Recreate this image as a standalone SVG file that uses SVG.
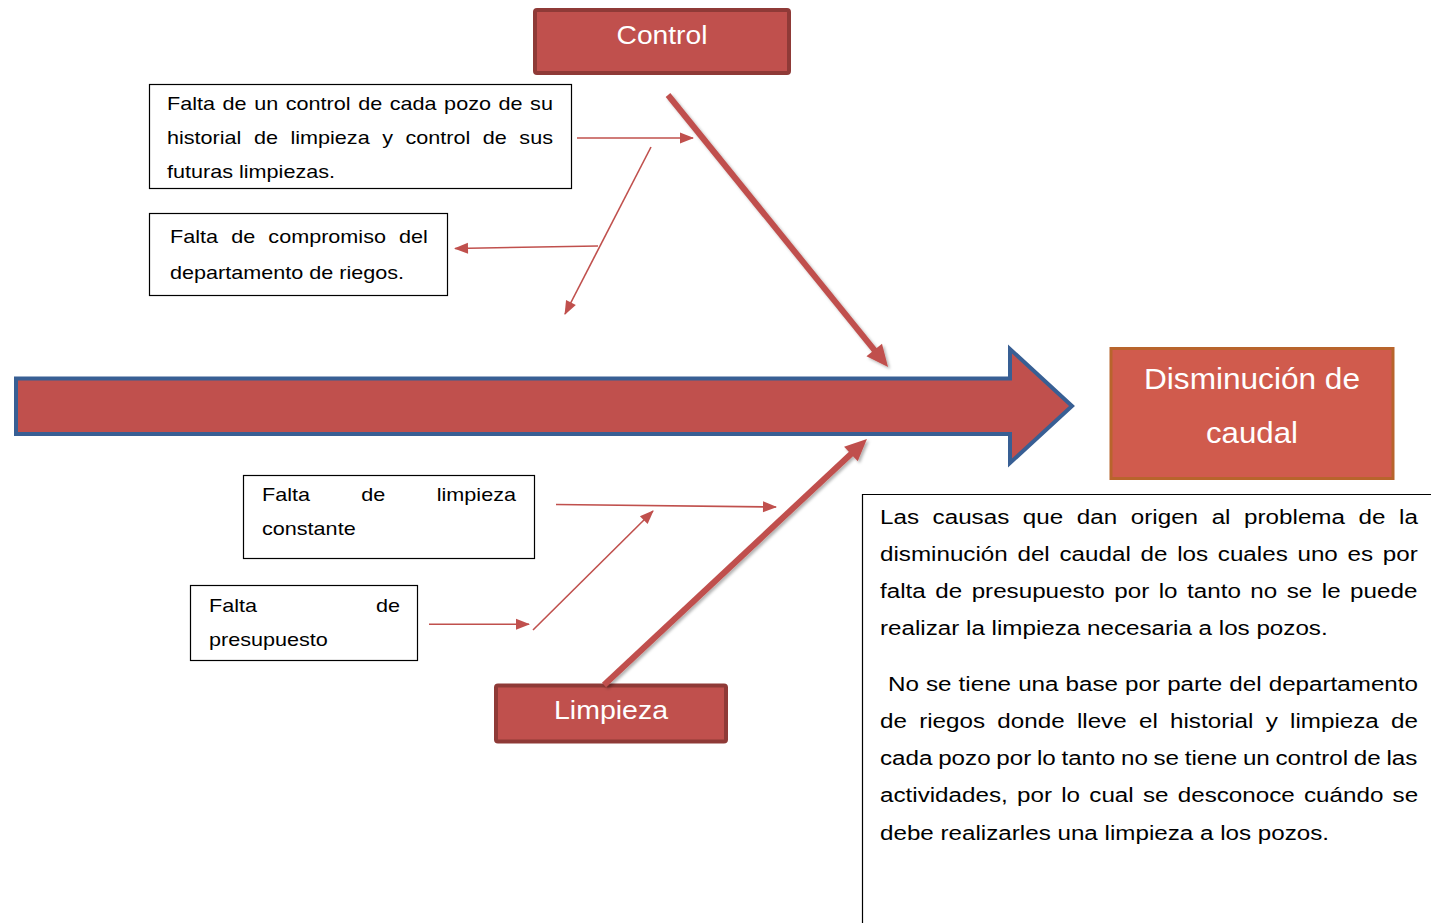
<svg xmlns="http://www.w3.org/2000/svg" width="1431" height="923" viewBox="0 0 1431 923">
  <style>
    .box { fill: #ffffff; stroke: #000000; stroke-width: 1.2; }
    .t { font-family: "Liberation Sans", Arial, sans-serif; fill: #000000; }
    .bx { font-size: 18px; }
    .para { font-size: 20px; }
    .lbl { font-family: "Liberation Sans", Arial, sans-serif; fill: #ffffff; text-anchor: middle; }
    .thin { fill: none; stroke: #C0504D; stroke-width: 1.6; marker-end: url(#headThin); }
    .thick { fill: none; stroke: #C0504D; stroke-width: 6; marker-end: url(#headThick); filter: url(#soft); }
    .cat { fill: #C0504D; stroke: #8F3A37; stroke-width: 4; }
  </style>
  <defs>
    <marker id="headThin" markerUnits="userSpaceOnUse" markerWidth="14" markerHeight="11" refX="13" refY="5.5" orient="auto" overflow="visible">
      <path d="M0,0 L14,5.5 L0,11 z" fill="#C0504D"/>
    </marker>
    <marker id="headThick" markerUnits="userSpaceOnUse" markerWidth="22" markerHeight="20" refX="10" refY="10" orient="auto" overflow="visible">
      <path d="M0,0 L22,10 L0,20 z" fill="#C0504D"/>
    </marker>
    <filter id="soft" x="-20%" y="-20%" width="140%" height="140%">
      <feDropShadow dx="2" dy="2" stdDeviation="1.5" flood-color="#000000" flood-opacity="0.3"/>
    </filter>
  </defs>

  <!-- spine -->
  <g id="spine">
    <polygon points="16,378.5 1010,378.5 1010,349 1072,406 1010,463 1010,434 16,434" fill="#C0504D" stroke="#385F94" stroke-width="4" stroke-linejoin="miter"/>
  </g>

  <!-- effect -->
  <g id="effect">
    <rect x="1111" y="348.5" width="282" height="130" fill="#D05B4D" stroke="#B8642C" stroke-width="3"/>
    <text class="lbl" x="1252" y="389" font-size="29" textLength="216" lengthAdjust="spacingAndGlyphs">Disminución de</text>
    <text class="lbl" x="1252" y="443" font-size="29" textLength="92" lengthAdjust="spacingAndGlyphs">caudal</text>
  </g>

  <!-- category: Control -->
  <g id="control">
    <rect class="cat" x="535" y="10" width="254" height="63" rx="2"/>
    <text class="lbl" x="662" y="44" font-size="26" textLength="91" lengthAdjust="spacingAndGlyphs">Control</text>
  </g>

  <!-- category: Limpieza -->
  <g id="limpieza">
    <rect class="cat" x="496" y="685.5" width="230" height="56" rx="2"/>
    <text class="lbl" x="611" y="719" font-size="25" textLength="114" lengthAdjust="spacingAndGlyphs">Limpieza</text>
  </g>

  <!-- cause: control history -->
  <g id="cause-historial">
    <rect class="box" x="149.5" y="84.5" width="422" height="104"/>
    <g transform="translate(167 0) scale(1.2 1)">
      <text class="t bx" x="0" y="110" word-spacing="1.31">Falta de un control de cada pozo de su</text>
      <text class="t bx" x="0" y="144" word-spacing="5.43">historial de limpieza y control de sus</text>
      <text class="t bx" x="0" y="178">futuras limpiezas.</text>
    </g>
  </g>

  <!-- cause: commitment -->
  <g id="cause-compromiso">
    <rect class="box" x="149.5" y="213.5" width="298" height="82"/>
    <g transform="translate(170 0) scale(1.2 1)">
      <text class="t bx" x="0" y="243" word-spacing="5.97">Falta de compromiso del</text>
      <text class="t bx" x="0" y="279">departamento de riegos.</text>
    </g>
  </g>

  <!-- cause: constant cleaning -->
  <g id="cause-limpieza">
    <rect class="box" x="243.5" y="475.5" width="291" height="83"/>
    <g transform="translate(262 0) scale(1.2 1)">
      <text class="t bx" x="0" y="501" word-spacing="37.8">Falta de limpieza</text>
      <text class="t bx" x="0" y="535">constante</text>
    </g>
  </g>

  <!-- cause: budget -->
  <g id="cause-presupuesto">
    <rect class="box" x="190.5" y="585.5" width="227" height="75"/>
    <g transform="translate(209 0) scale(1.2 1)">
      <text class="t bx" x="0" y="612" word-spacing="94.2">Falta de</text>
      <text class="t bx" x="0" y="646">presupuesto</text>
    </g>
  </g>

  <!-- explanation -->
  <g id="explicacion">
    <path d="M862.5,923 L862.5,494.5 L1431,494.5" fill="none" stroke="#000000" stroke-width="1.2"/>
    <g transform="translate(880 0) scale(1.21 1)">
      <text class="t para" x="0" y="524" word-spacing="5.7">Las causas que dan origen al problema de la</text>
      <text class="t para" x="0" y="561" word-spacing="2.5">disminución del caudal de los cuales uno es por</text>
      <text class="t para" x="0" y="598" word-spacing="2.3">falta de presupuesto por lo tanto no se le puede</text>
      <text class="t para" x="0" y="635">realizar la limpieza necesaria a los pozos.</text>
      <text class="t para" x="6.6" y="691" word-spacing="0.3">No se tiene una base por parte del departamento</text>
      <text class="t para" x="0" y="728" word-spacing="4.6">de riegos donde lleve el historial y limpieza de</text>
      <text class="t para" x="0" y="765" word-spacing="-0.85">cada pozo por lo tanto no se tiene un control de las</text>
      <text class="t para" x="0" y="802" word-spacing="2.1">actividades, por lo cual se desconoce cuándo se</text>
      <text class="t para" x="0" y="840">debe realizarles una limpieza a los pozos.</text>
    </g>
  </g>

  <!-- connectors -->
  <g id="connectors">
    <path class="thick" d="M668,95 L880.5,357.7"/>
    <path class="thick" d="M604,685 L858.2,447.2"/>
    <path class="thin" d="M577,138 L693,138"/>
    <path class="thin" d="M651,147 L565,314"/>
    <path class="thin" d="M598,246 L455,248.5"/>
    <path class="thin" d="M556,504.5 L776,507"/>
    <path class="thin" d="M429,624.3 L529,624.3"/>
    <path class="thin" d="M533,630 L653,511"/>
  </g>
</svg>
